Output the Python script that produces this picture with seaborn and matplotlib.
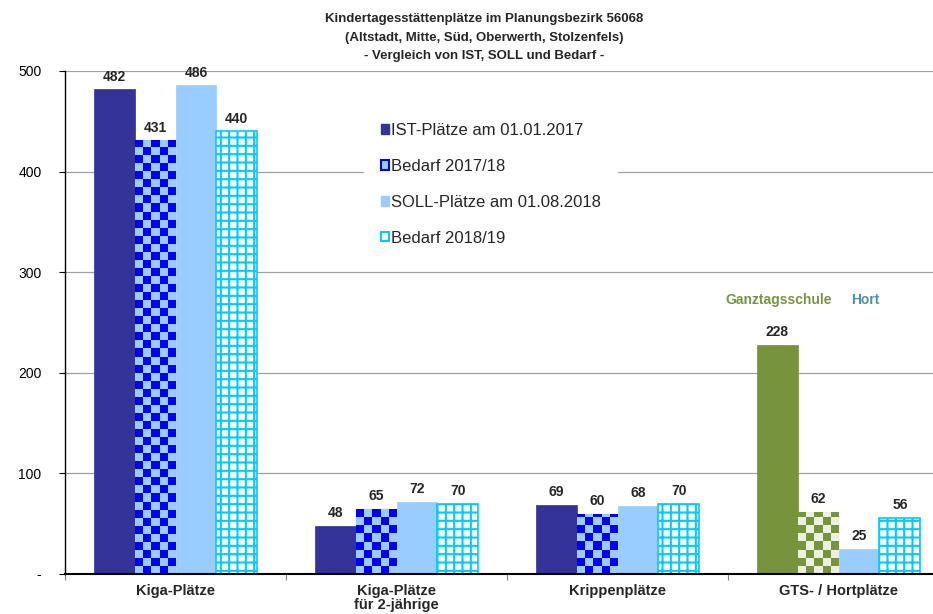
import numpy as np
import pandas as pd
import matplotlib
matplotlib.use('Agg')
import matplotlib.pyplot as plt
import seaborn as sns
from matplotlib.colors import ListedColormap
from matplotlib.patches import Patch

# Data
categories = ['Kiga-Plätze', 'Kiga-Plätze\nfür 2-jährige', 'Krippenplätze', 'GTS- / Hortplätze']
series = ['IST-Plätze am 01.01.2017', 'Bedarf 2017/18', 'SOLL-Plätze am 01.08.2018', 'Bedarf 2018/19']
ist_2017 = [482, 48, 69, 228]
bedarf_1718 = [431, 65, 60, 62]
soll_2018 = [486, 72, 68, 25]
bedarf_1819 = [440, 70, 70, 56]
y_ticks = [0, 100, 200, 300, 400, 500]
y_tick_labels = ['-', '100', '200', '300', '400', '500']
title = ('Kindertagesstättenplätze im Planungsbezirk 56068\n'
         '(Altstadt, Mitte, Süd, Oberwerth, Stolzenfels)\n'
         '- Vergleich von IST, SOLL und Bedarf -')

# colours
dark_blue = '#333399'
blue = '#0000FF'
light_blue = '#99CCFF'
cyan = '#00CCFF'
green = '#77933C'
light_green = '#EBF1DE'
hort_col = '#4A92AB'


def checker(ax, bar, dark, light, size=8, nx=5):
    # fill a bar with a checkerboard image clipped to the bar shape
    x, y = bar.get_x(), bar.get_y()
    w, h = bar.get_width(), bar.get_height()
    ny = int(np.ceil(h / size))
    cells = np.add.outer(np.arange(ny), np.arange(nx)) % 2
    im = ax.imshow(cells, cmap=ListedColormap([light, dark]),
                   extent=(x, x + w, y, y + ny * size), origin='lower',
                   aspect='auto', interpolation='nearest',
                   zorder=bar.get_zorder() + 0.1)
    im.set_clip_path(bar)


sns.set_style('white')
plt.rcParams['font.family'] = ['Liberation Sans', 'DejaVu Sans']
plt.rcParams['hatch.linewidth'] = 1.5

df = pd.DataFrame({
    'Kategorie': categories * 4,
    'Reihe': np.repeat(series, len(categories)),
    'Plätze': ist_2017 + bedarf_1718 + soll_2018 + bedarf_1819,
})

fig = plt.figure(figsize=(9.33, 6.14), dpi=100)
ax = fig.add_axes([65 / 933, 1 - 574 / 614, 884 / 933, 503 / 614])

sns.barplot(data=df, x='Kategorie', y='Plätze', hue='Reihe', order=categories,
            hue_order=series, palette=[dark_blue, light_blue, light_blue, 'white'],
            width=0.74, gap=0, saturation=1, errorbar=None, legend=False, ax=ax)

c_ist, c_b1, c_soll, c_b2 = ax.containers
for i, bar in enumerate(c_ist):
    col = green if i == 3 else dark_blue
    bar.set_facecolor(col)
    bar.set_edgecolor(col)
    bar.set_linewidth(0.5)
for i, bar in enumerate(c_b1):
    bar.set_linewidth(0)
    if i == 3:
        checker(ax, bar, green, light_green)
    else:
        checker(ax, bar, blue, light_blue)
for bar in c_soll:
    bar.set_facecolor(light_blue)
    bar.set_edgecolor(light_blue)
    bar.set_linewidth(0.5)
for bar in c_b2:
    bar.set_facecolor('white')
    bar.set_edgecolor(cyan)
    bar.set_hatch('++')
    bar.set_linewidth(1.2)

for cont in ax.containers:
    ax.bar_label(cont, padding=4, fontsize=10, fontweight='bold')

ax.set_xlim(-0.5, 3.5)
ax.set_ylim(0, 500)
ax.set_yticks(y_ticks, y_tick_labels)
ax.set_xlabel('')
ax.set_ylabel('')
ax.set_axisbelow(True)
ax.yaxis.grid(True, color='#A0A0A0', linewidth=0.9)

ax.tick_params(axis='y', which='major', length=4, width=0.8, pad=13, labelsize=10,
               left=True, colors='black')
ax.set_xticks(range(len(categories)), categories)
ax.set_xticks(np.arange(-0.5, 3.5, 1), minor=True)
ax.tick_params(axis='x', which='major', length=0, pad=7, labelsize=10.5)
ax.tick_params(axis='x', which='minor', length=4, width=0.8, color='#808080', bottom=True)
for lab in ax.get_xticklabels():
    lab.set_fontweight('bold')
    lab.set_linespacing(1.0)

for side in ['top', 'right']:
    ax.spines[side].set_visible(False)
ax.spines['left'].set_color('black')
ax.spines['left'].set_linewidth(1.0)
ax.spines['bottom'].set_color('black')
ax.spines['bottom'].set_linewidth(1.5)

handles = [
    Patch(facecolor=dark_blue, edgecolor=dark_blue),
    Patch(facecolor=light_blue, edgecolor=blue, linewidth=1.5),
    Patch(facecolor=light_blue, edgecolor=light_blue),
    Patch(facecolor='white', edgecolor=cyan, linewidth=1.5),
]
leg = ax.legend(handles, series, loc='upper left', bbox_to_anchor=(0.329, 0.946),
                frameon=True, facecolor='white', edgecolor='white', framealpha=1,
                fontsize=12, handlelength=0.5, handleheight=0.5, handletextpad=0.1,
                labelspacing=1.25, borderpad=1.0, fancybox=False)

ax.text(2.73, 272, 'Ganztagsschule', color=green, fontsize=10, fontweight='bold',
        ha='center', va='center')
ax.text(3.12, 272, 'Hort', color=hort_col, fontsize=10, fontweight='bold',
        ha='center', va='center')

fig.text(0.519, 0.979, title, ha='center', va='top', fontsize=9.5,
         fontweight='bold', linespacing=1.75)

fig.savefig('out.png', dpi=100)
